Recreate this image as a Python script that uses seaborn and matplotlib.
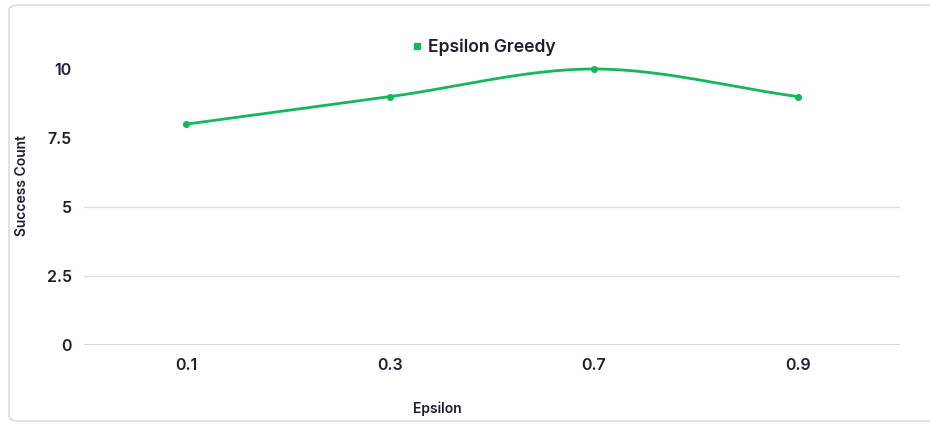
import numpy as np
import pandas as pd
import matplotlib
matplotlib.use("Agg")
import matplotlib.pyplot as plt
from matplotlib.patches import FancyBboxPatch
from matplotlib.lines import Line2D
import seaborn as sns

categories = ["0.1", "0.3", "0.7", "0.9"]
success = [8, 9, 10, 9]
series_name = "Epsilon Greedy"
yticks = [0, 2.5, 5, 7.5, 10]
ytick_labels = ["0", "2.5", "5", "7.5", "10"]

GREEN = "#13b85a"
DARK = "#1f1d33"

sns.set_theme(style="white")
plt.rcParams["font.family"] = ["Inter", "DejaVu Sans"]

fig = plt.figure(figsize=(9.3, 4.26), dpi=100)
ax = fig.add_axes([84/930, 1-345/426, 816/930, (345-41.4)/426])

# card border
card = FancyBboxPatch((9/930, 5/426), 940/930, 416/426,
                      boxstyle="round,pad=0,rounding_size=0.012",
                      transform=fig.transFigure, fill=False,
                      edgecolor="#dcdcdc", linewidth=1.2, zorder=0)
fig.patches.append(card)

x = np.arange(len(categories), dtype=float)
y = np.array(success, dtype=float)

# monotone cubic (Fritsch-Carlson) smoothing for the drawn curve
def monotone(xp, yp, n=60):
    h = np.diff(xp)
    d = np.diff(yp) / h
    m = np.zeros_like(yp)
    m[0], m[-1] = d[0], d[-1]
    for i in range(1, len(yp)-1):
        if d[i-1] * d[i] <= 0:
            m[i] = 0
        else:
            w1 = 2*h[i] + h[i-1]
            w2 = h[i] + 2*h[i-1]
            m[i] = (w1 + w2) / (w1/d[i-1] + w2/d[i])
    xs, ys = [], []
    for i in range(len(xp)-1):
        t = np.linspace(0, 1, n)
        h00 = 2*t**3 - 3*t**2 + 1
        h10 = t**3 - 2*t**2 + t
        h01 = -2*t**3 + 3*t**2
        h11 = t**3 - t**2
        xs.append(xp[i] + t*h[i])
        ys.append(h00*yp[i] + h10*h[i]*m[i] + h01*yp[i+1] + h11*h[i]*m[i+1])
    return np.concatenate(xs), np.concatenate(ys)

xs, ys = monotone(x, y)
curve = pd.DataFrame({"x": xs, "y": ys})
pts = pd.DataFrame({"x": x, "y": y})

# gridlines at 0, 2.5, 5
for g in [0, 2.5, 5]:
    ax.axhline(g, color="#cfd0d6" if g == 0 else "#dedfe3", linewidth=1.2 if g == 0 else 1.0, zorder=1)

sns.lineplot(data=curve, x="x", y="y", ax=ax, color=GREEN, linewidth=2.0,
             estimator=None, sort=False, zorder=3)
sns.scatterplot(data=pts, x="x", y="y", ax=ax, color=GREEN, s=26,
                edgecolor=GREEN, linewidth=0, zorder=4)

ax.set_xlim(-0.5, 3.5)
ax.set_ylim(0, 11)
ax.set_xticks(x)
ax.set_xticklabels(categories)
ax.set_yticks(yticks)
ax.set_yticklabels(ytick_labels)
ax.tick_params(axis="both", length=0, labelsize=11.5, labelcolor=DARK)
ax.tick_params(axis="x", pad=9)
ax.tick_params(axis="y", pad=9)
for lab in ax.get_xticklabels() + ax.get_yticklabels():
    lab.set_fontweight("semibold")
for s in ax.spines.values():
    s.set_visible(False)

ax.set_xlabel("Epsilon", fontsize=10, fontweight="semibold", color=DARK)
ax.xaxis.set_label_coords((437-84)/816, (345-401)/(345-41.4))
ax.set_ylabel("Success Count", fontsize=10, fontweight="semibold", color=DARK)
ax.yaxis.set_label_coords((29-84)/816, (345-185)/(345-41.4))

handle = Line2D([0], [0], marker="s", color="none", markerfacecolor=GREEN,
                markeredgecolor=GREEN, markersize=3.8)
leg = ax.legend([handle], [series_name], loc="center", bbox_to_anchor=(484/930, 1-47/426),
                bbox_transform=fig.transFigure, frameon=False, handlelength=0.5,
                handletextpad=0.4, prop={"weight": "semibold", "size": 12.6})
for t in leg.get_texts():
    t.set_color(DARK)

fig.savefig("out.png", dpi=100, facecolor="white")
